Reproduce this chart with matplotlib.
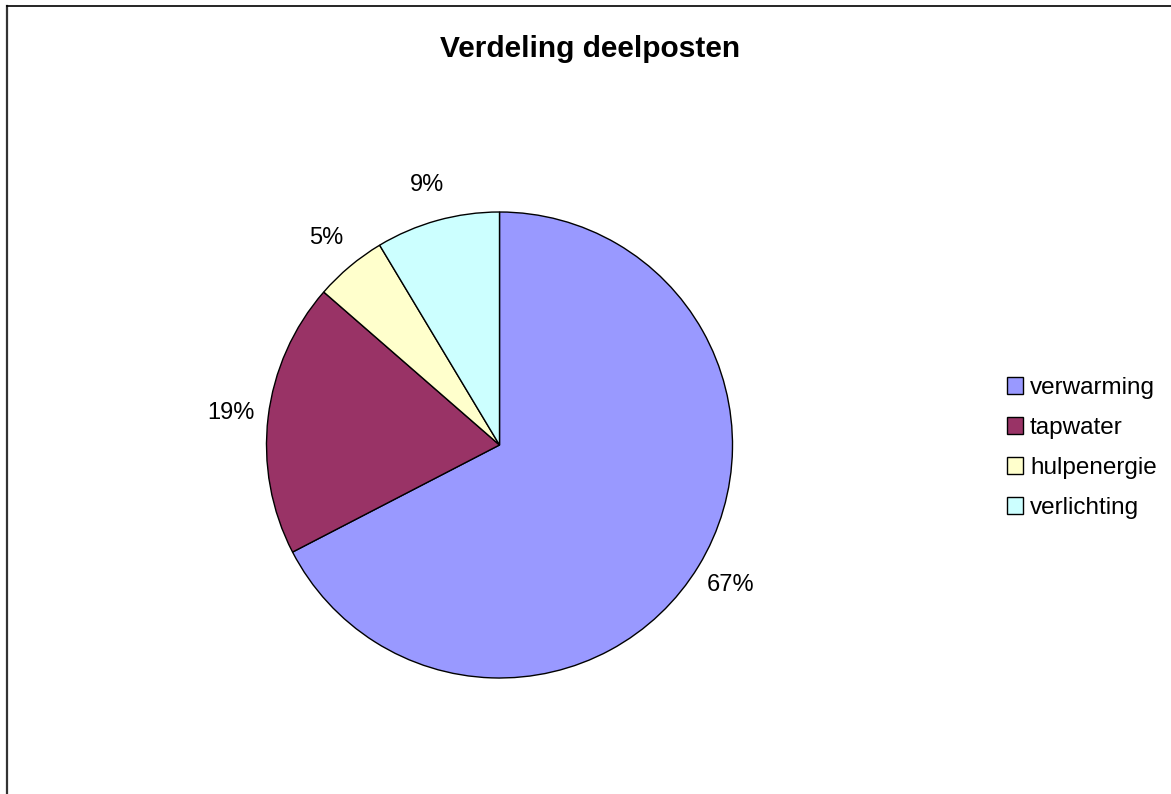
import matplotlib
matplotlib.use("Agg")
import matplotlib.pyplot as plt
from matplotlib.lines import Line2D

plt.rcParams['font.family'] = ['Liberation Sans', 'DejaVu Sans']

categories = ["verwarming", "tapwater", "hulpenergie", "verlichting"]
shares = [67.4, 19.0, 5.0, 8.6]
colors = ["#9999FF", "#993366", "#FFFFCC", "#CCFFFF"]
title = "Verdeling deelposten"

W, H = 1171, 794
fig = plt.figure(figsize=(W / 100, H / 100), dpi=100)

# pie centre and radius in pixels
cx, cy, r = 499.5, 445, 233
ax = fig.add_axes([(cx - r) / W, (H - cy - r) / H, 2 * r / W, 2 * r / H])
wedges, texts, autotexts = ax.pie(
    shares, colors=colors, startangle=90, counterclock=False,
    autopct="%1.0f%%", pctdistance=1.16, radius=1,
    wedgeprops=dict(edgecolor="black", linewidth=1.0),
    textprops=dict(fontsize=17, color="black"))
ax.set_xlim(-1, 1)
ax.set_ylim(-1, 1)
ax.set_aspect("equal")
ax.axis("off")

fig.text(590 / W, 1 - 49 / H, title, ha="center", va="center",
         fontsize=21.5, fontweight="bold")

fig.legend(wedges, categories, loc="center left",
           bbox_to_anchor=(1007 / W, 1 - 448 / H), frameon=False,
           fontsize=17.5, handlelength=0.65, handleheight=0.65,
           handletextpad=0.3, labelspacing=0.74, borderpad=0,
           borderaxespad=0)

# outer frame (top and left edges visible)
fig.add_artist(Line2D([6.5 / W, 6.5 / W], [0, 1 - 5.5 / H],
                      transform=fig.transFigure, color="#333333", linewidth=1.6))
fig.add_artist(Line2D([6.5 / W, 1], [1 - 5.5 / H, 1 - 5.5 / H],
                      transform=fig.transFigure, color="black", linewidth=1.2))

fig.savefig("out.png", dpi=100)
